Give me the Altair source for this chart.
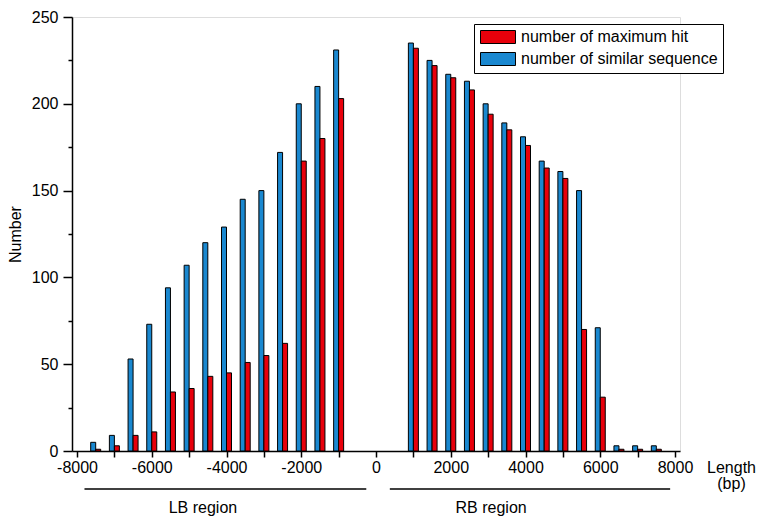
import altair as alt
import pandas as pd

# ---- data ----
lb_pos = [-7500, -7000, -6500, -6000, -5500, -5000, -4500, -4000, -3500, -3000, -2500, -2000, -1500, -1000]
lb_similar = [5, 9, 53, 73, 94, 107, 120, 129, 145, 150, 172, 200, 210, 231]
lb_max = [1, 3, 9, 11, 34, 36, 43, 45, 51, 55, 62, 167, 180, 203]

rb_pos = [1000, 1500, 2000, 2500, 3000, 3500, 4000, 4500, 5000, 5500, 6000, 6500, 7000, 7500]
rb_similar = [235, 225, 217, 213, 200, 189, 181, 167, 161, 150, 71, 3, 3, 3]
rb_max = [232, 222, 215, 208, 194, 185, 176, 163, 157, 70, 31, 1, 1, 1]

series_names = ["number of maximum hit", "number of similar sequence"]
series_colors = ["#E8000B", "#1A88D0"]

x_ticks = [-8000, -7000, -6000, -5000, -4000, -3000, -2000, -1000, 0,
           1000, 2000, 3000, 4000, 5000, 6000, 7000, 8000]
y_ticks = [0, 25, 50, 75, 100, 125, 150, 175, 200, 225, 250]

region_labels = ["LB region", "RB region"]
region_start = [-7800, 370]
region_end = [-260, 7870]
region_text_x = [-4630, 3080]

# ---- tables ----
pos = lb_pos + rb_pos
rows = []
for p, v in zip(pos, lb_similar + rb_similar):
    rows.append({"pos": p, "value": v, "series": series_names[1]})
for p, v in zip(pos, lb_max + rb_max):
    rows.append({"pos": p, "value": v, "series": series_names[0]})
df = pd.DataFrame(rows)

regions = pd.DataFrame({"label": region_labels, "start": region_start,
                        "end": region_end, "tx": region_text_x})

FONT = "Liberation Sans"
TOP = 9
PLOT_H = 434

xscale = alt.Scale(domain=[-8000, 8000], nice=False, zero=False)
yscale = alt.Scale(domain=[0, 250], nice=False)
color = alt.Color(
    "series:N",
    scale=alt.Scale(domain=series_names, range=series_colors),
    legend=alt.Legend(
        title=None, orient="none", legendX=402, legendY=16 - TOP,
        strokeColor="black", padding=5, fillColor="white",
        symbolType="M-1,-1L4.385,-1L4.385,1L-1,1Z", symbolSize=169,
        symbolStrokeColor="black", symbolStrokeWidth=1, symbolOpacity=1,
        labelFont=FONT, labelFontSize=16, labelColor="black", labelLimit=0,
        labelOffset=26, rowPadding=4,
    ),
)

x_axis = alt.Axis(
    values=x_ticks,
    labelExpr="datum.value % 2000 === 0 ? '' + datum.value : ''",
    labelOverlap=False, labelFlush=False, grid=False,
    tickSize=6, tickWidth=1.5, tickColor="black",
    domainColor="black", domainWidth=1.5,
    labelFont=FONT, labelFontSize=16, labelColor="black", labelPadding=2,
    title=["Length", "(bp)"], titleFont=FONT, titleFontSize=16,
    titleFontWeight="normal", titleColor="black",
    titleX=659, titleY=21, titleBaseline="alphabetic", titleAlign="center",
    titleLineHeight=16,
)
y_axis = alt.Axis(
    values=y_ticks,
    labelExpr="datum.value % 50 === 0 ? '' + datum.value : ''",
    labelOverlap=False, grid=False,
    tickSize={"condition": {"test": "datum.value % 50 === 0", "value": 9}, "value": 4},
    tickWidth=1.5, tickColor="black",
    domainColor="black", domainWidth=1.5,
    labelFont=FONT, labelFontSize=16, labelColor="black", labelPadding=5,
    title="Number", titleFont=FONT, titleFontSize=16, titleFontWeight="normal",
    titleColor="black", titleX=-52, titleY=PLOT_H / 2, titleBaseline="alphabetic",
)

blue = alt.Chart(df).transform_filter(
    alt.datum.series == series_names[1]
).mark_bar(size=5, xOffset=-2.5, stroke="black", strokeWidth=1, orient="vertical").encode(
    x=alt.X("pos:Q", scale=xscale, axis=x_axis),
    y=alt.Y("value:Q", scale=yscale, axis=y_axis),
    color=color,
)
red = alt.Chart(df).transform_filter(
    alt.datum.series == series_names[0]
).mark_bar(size=5, xOffset=2.5, stroke="black", strokeWidth=1, orient="vertical").encode(
    x=alt.X("pos:Q", scale=xscale, axis=x_axis),
    y=alt.Y("value:Q", scale=yscale, axis=y_axis),
    color=color,
)

region_lines = alt.Chart(regions).mark_rule(color="black", strokeWidth=1.5).encode(
    x=alt.X("start:Q", scale=xscale, axis=x_axis),
    x2="end:Q",
    y=alt.value(PLOT_H + 38),
)
region_text = alt.Chart(regions).mark_text(
    font=FONT, fontSize=16, color="black", baseline="alphabetic", align="center"
).encode(
    x=alt.X("tx:Q", scale=xscale, axis=x_axis),
    y=alt.value(PLOT_H + 62),
    text="label:N",
)

chart = alt.layer(blue, red, region_lines, region_text).properties(
    width=608, height=PLOT_H,
    autosize=alt.AutoSizeParams(type="none"),
    padding={"left": 64, "top": TOP, "right": 77, "bottom": 68},
).configure_view(stroke=None).configure(background="white")

chart.save("out.html", embed_options={"renderer": "svg", "actions": False})
